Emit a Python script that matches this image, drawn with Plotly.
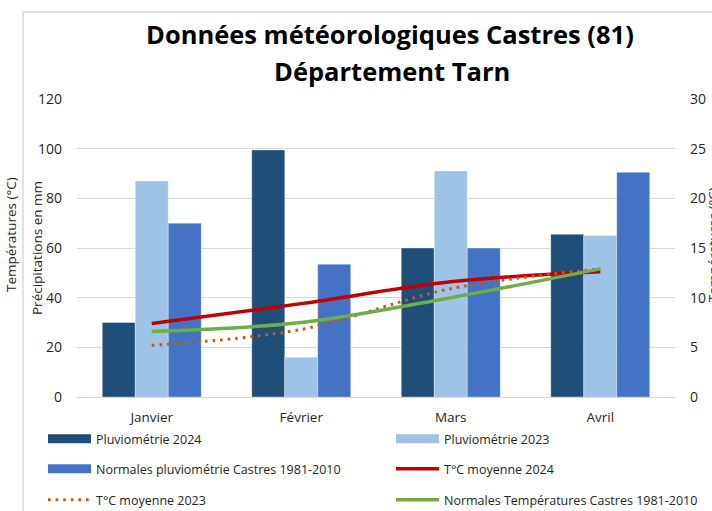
import plotly.graph_objects as go

# ---- data ----
months = ["Janvier", "Février", "Mars", "Avril"]
pluvio_2024 = [30, 99.5, 60, 65.5]
pluvio_2023 = [87, 16, 91, 65]
pluvio_normales = [70, 53.5, 60, 90.5]
temp_2024 = [7.4, 9.4, 11.6, 12.6]
temp_2023 = [5.2, 6.8, 10.9, 12.9]
temp_normales = [6.6, 7.5, 10.0, 12.9]

left_ticks = [0, 20, 40, 60, 80, 100, 120]
right_ticks = [0, 5, 10, 15, 20, 25, 30]

# ---- styles ----
C_DARK = "#1F4E79"
C_LIGHT = "#9DC3E6"
C_MED = "#4472C4"
C_RED = "#C00000"
C_ORANGE = "#C55A11"
C_GREEN = "#70AD47"
FONT = "Open Sans"
TXT = "#262626"

W, H = 712, 511
L, R, T, B = 77, 675, 99, 397
PW, PH = R - L, B - T


def px(x):
    return (x - L) / PW


def py(y):
    return (B - y) / PH


fig = go.Figure()

for name, vals, col in [
    ("Pluviométrie 2024", pluvio_2024, C_DARK),
    ("Pluviométrie 2023", pluvio_2023, C_LIGHT),
    ("Normales pluviométrie Castres 1981-2010", pluvio_normales, C_MED),
]:
    fig.add_trace(go.Bar(
        x=months, y=vals, name=name, marker_color=col,
        marker_line=dict(color="rgba(255,255,255,0.35)", width=1),
        showlegend=False, yaxis="y",
    ))

# legend-only entries for bars (wide rectangles like the original)
legend_bar = [("Pluviométrie 2024", C_DARK, "legend"),
              ("Pluviométrie 2023", C_LIGHT, "legend2"),
              ("Normales pluviométrie Castres 1981-2010", C_MED, "legend3")]
for name, col, lg in legend_bar:
    fig.add_trace(go.Scatter(
        x=[None], y=[None], mode="lines", name=name,
        line=dict(color=col, width=9), legend=lg, yaxis="y",
    ))

fig.add_trace(go.Scatter(
    x=months, y=temp_2024, name="T°C moyenne 2024", mode="lines",
    line=dict(color=C_RED, width=3.5, shape="spline"), yaxis="y2", legend="legend4",
))
fig.add_trace(go.Scatter(
    x=months, y=temp_2023, name="T°C moyenne 2023", mode="lines",
    line=dict(color=C_ORANGE, width=3, shape="spline", dash="2.6px,5px"),
    yaxis="y2", legend="legend5",
))
fig.add_trace(go.Scatter(
    x=months, y=temp_normales, name="Normales Températures Castres 1981-2010", mode="lines",
    line=dict(color=C_GREEN, width=3.5, shape="spline"), yaxis="y2", legend="legend6",
))

lfont = dict(family=FONT, size=12.5, color=TXT)
col1_x, col2_x = px(43), px(391)
rows_y = [py(439), py(469), py(500)]


def lg(x, y):
    return dict(x=x, y=y, xanchor="left", yanchor="middle", orientation="h",
                font=lfont, itemwidth=43, bgcolor="rgba(0,0,0,0)", borderwidth=0)


fig.update_layout(
    width=W, height=H,
    margin=dict(l=L, r=W - R, t=T, b=H - B, autoexpand=False),
    paper_bgcolor="white", plot_bgcolor="white",
    barmode="group", bargap=0.338, bargroupgap=0,
    font=dict(family=FONT, size=12.5, color=TXT),
    xaxis=dict(showgrid=False, showline=True, linecolor="#D9D9D9", linewidth=1,
               ticks="", ticklabelstandoff=8, tickfont=dict(size=13.5, color=TXT)),
    yaxis=dict(range=[0, 120], tickvals=left_ticks, showgrid=True, gridcolor="#D9D9D9",
               gridwidth=1, zeroline=False, showline=False, ticks="",
               ticklabelstandoff=14, tickfont=dict(size=14, color=TXT)),
    yaxis2=dict(range=[0, 30], tickvals=right_ticks, overlaying="y", side="right",
                showgrid=False, zeroline=False, showline=False, ticks="",
                ticklabelstandoff=14, tickfont=dict(size=14, color=TXT)),
    legend=lg(col1_x, rows_y[0]),
    legend2=lg(col2_x, rows_y[0]),
    legend3=lg(col1_x, rows_y[1]),
    legend4=lg(col2_x, rows_y[1]),
    legend5=lg(col1_x, rows_y[2]),
    legend6=lg(col2_x, rows_y[2]),
    showlegend=True,
)

# title
fig.add_annotation(x=px(390), y=py(34), xref="paper", yref="paper", showarrow=False,
                   xanchor="center", yanchor="middle",
                   text="<b>Données météorologiques Castres (81)</b>",
                   font=dict(family=FONT, size=25.5, color="black"))
fig.add_annotation(x=px(392), y=py(71), xref="paper", yref="paper", showarrow=False,
                   xanchor="center", yanchor="middle",
                   text="<b>Département Tarn</b>",
                   font=dict(family=FONT, size=25.5, color="black"))

# axis titles
fig.add_annotation(x=px(37), y=py(248), xref="paper", yref="paper", showarrow=False,
                   xanchor="center", yanchor="middle",
                   text="Précipitations en mm", textangle=-90,
                   font=dict(family=FONT, size=13.5, color=TXT))
fig.add_annotation(x=px(713), y=py(245), xref="paper", yref="paper", showarrow=False,
                   xanchor="center", yanchor="middle",
                   text="Températures (°C)", textangle=-90,
                   font=dict(family=FONT, size=13.5, color=TXT))

# outside (cropped neighbour) text on the left
fig.add_annotation(x=px(11), y=py(235), xref="paper", yref="paper", showarrow=False,
                   xanchor="center", yanchor="middle",
                   text="Températures (°C)", textangle=-90,
                   font=dict(family=FONT, size=13.5, color=TXT))

# chart frame
fig.add_shape(type="line", xref="paper", yref="paper", x0=px(23), x1=px(23),
              y0=py(12), y1=py(520), line=dict(color="#D9D9D9", width=1.5))
fig.add_shape(type="line", xref="paper", yref="paper", x0=px(23), x1=px(720),
              y0=py(12), y1=py(12), line=dict(color="#D9D9D9", width=1.5))

fig.write_html("out.html", config={"displayModeBar": False},
               post_script="document.body.style.margin='0';")
